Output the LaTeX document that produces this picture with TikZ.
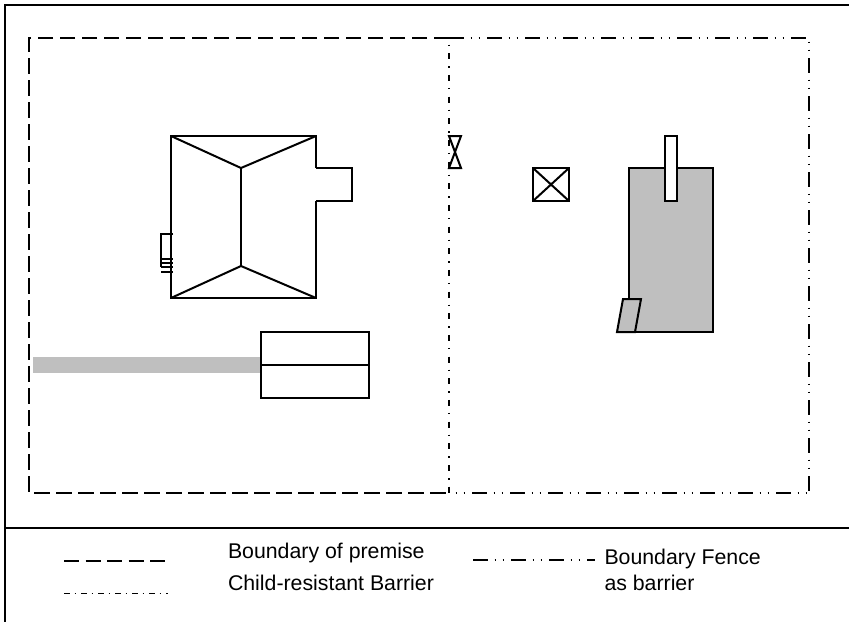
\documentclass[tikz,border=0pt]{standalone}
\usepackage{fontspec}
\setmainfont{Liberation Sans}
\begin{document}
\begin{tikzpicture}[x=1pt, y=-1pt, line width=2pt, line join=miter,
premise/.style={dash pattern=on 15.5pt off 6.5pt},
fence/.style={dash pattern=on 15pt off 6.5pt on 1.5pt off 6.5pt on 1.5pt off 7pt},
barrier/.style={line width=1.8pt, dash pattern=on 6pt off 7pt on 1.5pt off 7.17pt, dash phase=6.4pt},
legendtext/.style={inner sep=0pt, anchor=base west, font=\fontsize{21.3}{24}\selectfont}]
\useasboundingbox (0,0) rectangle (849,622);
% frame
\draw (849,5) -- (5,5) -- (5,622);
\draw (5,528) -- (849,528);
% boundaries
\draw[premise] (449,38) -- (29,38) -- (29,493) -- (449,493);
\draw[fence] (449,38) -- (809,38) -- (809,493);
\draw[fence, dash phase=15pt] (449,493) -- (809,493);
\draw[barrier] (449,38) -- (449,493);
% house
\draw (316,168) -- (316,136) -- (171,136) -- (171,298) -- (316,298) -- (316,201);
\draw (316,168) -- (352,168) -- (352,201) -- (316,201);
\draw (171,136) -- (241,168) -- (316,136);
\draw (171,298) -- (241,266) -- (316,298);
\draw (241,168) -- (241,266);
% steps
\draw (173,234) -- (161,234) -- (161,267);
\foreach \y in {259,263,267,272}
  \draw (161,\y) -- (173,\y);
% garage and drive
\fill[black!25] (33,357) rectangle (261,373);
\draw (261,332) rectangle (369,398);
\draw (261,365) -- (369,365);
% gate
\draw (449,136) -- (461,136) -- (449,168) -- (461,168) -- cycle;
% tank
\draw (533,168) rectangle (569,201);
\draw (533,168) -- (569,201);
\draw (569,168) -- (533,201);
% shed
\draw[fill=black!25] (629,168) rectangle (713,332);
\draw[fill=white] (665,136) rectangle (677,201);
\draw[fill=black!25] (623,299) -- (641,299) -- (635,332) -- (617,332) -- cycle;
% legend
\draw[dash pattern=on 15pt off 6.5pt] (64,561) -- (168,561);
\draw[line width=1.2pt, dash pattern=on 6pt off 4.5pt on 1.5pt off 5pt] (64,593.5) -- (168,593.5);
\draw[line width=1.6pt, fence] (473,560) -- (595,560);
\node[legendtext] (premiselabel) at (227,558) {Boundary of premise};
\node[legendtext] (barrierlabel) at (227,590) {Child-resistant Barrier};
\node[legendtext] (fencelabel) at (603.5,564) {Boundary Fence};
\node[legendtext] (fencelabeltwo) at (603.5,590) {as barrier};
\end{tikzpicture}
\end{document}
